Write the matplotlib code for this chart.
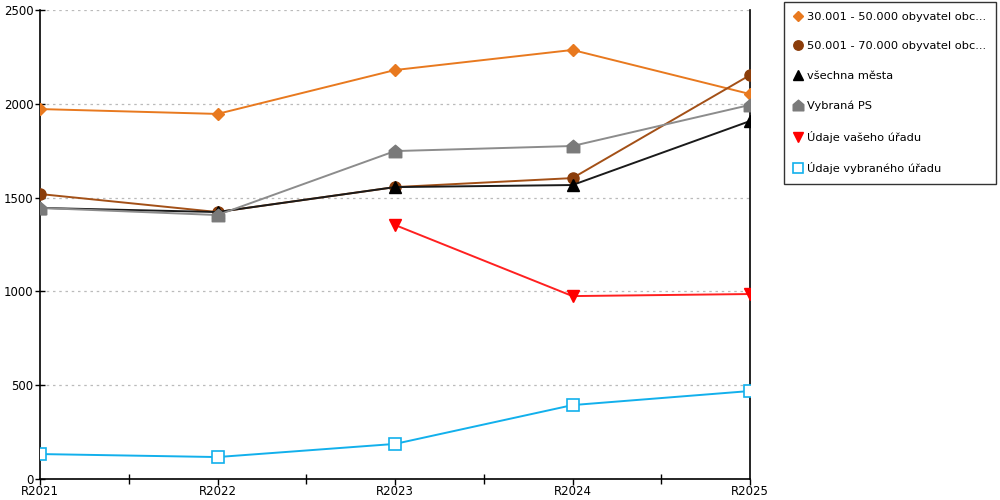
import numpy as np
import matplotlib
matplotlib.use('Agg')
import matplotlib.pyplot as plt
from matplotlib.path import Path

# Data
years = ['R2021', 'R2022', 'R2023', 'R2024', 'R2025']
obce_30_50 = [1972, 1946, 2180, 2287, 2052]
obce_50_70 = [1519, 1423, 1556, 1604, 2153]
vsechna_mesta = [1445, 1423, 1556, 1567, 1908]
vybrana_ps = [1445, 1407, 1748, 1775, 1994]
vas_urad = [np.nan, np.nan, 1354, 975, 986]
vybrany_urad = [133, 117, 187, 394, 469]

labels = ['30.001 - 50.000 obyvatel obc...', '50.001 - 70.000 obyvatel obc...',
          'všechna města', 'Vybraná PS', 'Údaje vašeho úřadu', 'Údaje vybraného úřadu']

house = Path([(-1, -1), (1, -1), (1, 0.15), (0, 1), (-1, 0.15), (-1, -1)],
             [Path.MOVETO] + [Path.LINETO] * 4 + [Path.CLOSEPOLY])

plt.rcParams['font.family'] = ['DejaVu Sans']
fig = plt.figure(figsize=(10, 5), dpi=100)
ax = fig.add_axes([0.040, 0.042, 0.710, 0.938])

x = np.arange(len(years))
ax.plot(x, obce_30_50, color='#e8791f', marker='D', ms=6, lw=1.4, label=labels[0], zorder=3)
ax.plot(x, obce_50_70, color='#a35017', marker='o', ms=8, lw=1.4, mfc='#8b3d0a', mec='#8b3d0a',
        label=labels[1], zorder=3)
ax.plot(x, vsechna_mesta, color='#1a1a1a', marker='^', ms=8, lw=1.4, mfc='black', mec='black',
        label=labels[2], zorder=3)
ax.plot(x, vybrana_ps, color='#8c8c8c', marker=house, ms=9, lw=1.4, mfc='#7a7a7a', mec='#7a7a7a',
        label=labels[3], zorder=3)
ax.plot(x, vas_urad, color='#ff2020', marker='v', ms=9, lw=1.4, mfc='red', mec='red',
        label=labels[4], zorder=3)
ax.plot(x, vybrany_urad, color='#12b0ec', marker='s', ms=8, lw=1.4, mfc='white', mec='#12b0ec',
        mew=1.2, label=labels[5], zorder=3)

ax.set_xlim(0, 4)
ax.set_ylim(0, 2500)
ax.set_yticks(np.arange(0, 2501, 500))
ax.set_xticks(x)
ax.set_xticklabels(years)
ax.set_xticks(np.arange(0.5, 4, 1), minor=True)
ax.tick_params(axis='x', which='minor', direction='inout', length=7, width=1)
ax.tick_params(axis='x', which='major', direction='out', length=4, width=1, pad=0.5, labelsize=8.5)
ax.tick_params(axis='y', direction='inout', length=7, width=1, pad=1, labelsize=8.5)
ax.grid(axis='y', linestyle=(0, (2, 3)), color='#bbbbbb', lw=0.9)
ax.spines['top'].set_visible(False)
for s in ['left', 'right', 'bottom']:
    ax.spines[s].set_color('black')
    ax.spines[s].set_linewidth(1.2)

leg = fig.legend(loc='upper left', bbox_to_anchor=(0.784, 0.996), frameon=True, fancybox=False,
                 edgecolor='black', fontsize=8.2, handlelength=0.8, handletextpad=0.4,
                 labelspacing=1.72, borderpad=0.85, borderaxespad=0, markerscale=0.85)
for h in leg.legend_handles:
    h.set_linestyle('None')
leg.get_frame().set_linewidth(1.0)

fig.savefig('out.png', dpi=100)
